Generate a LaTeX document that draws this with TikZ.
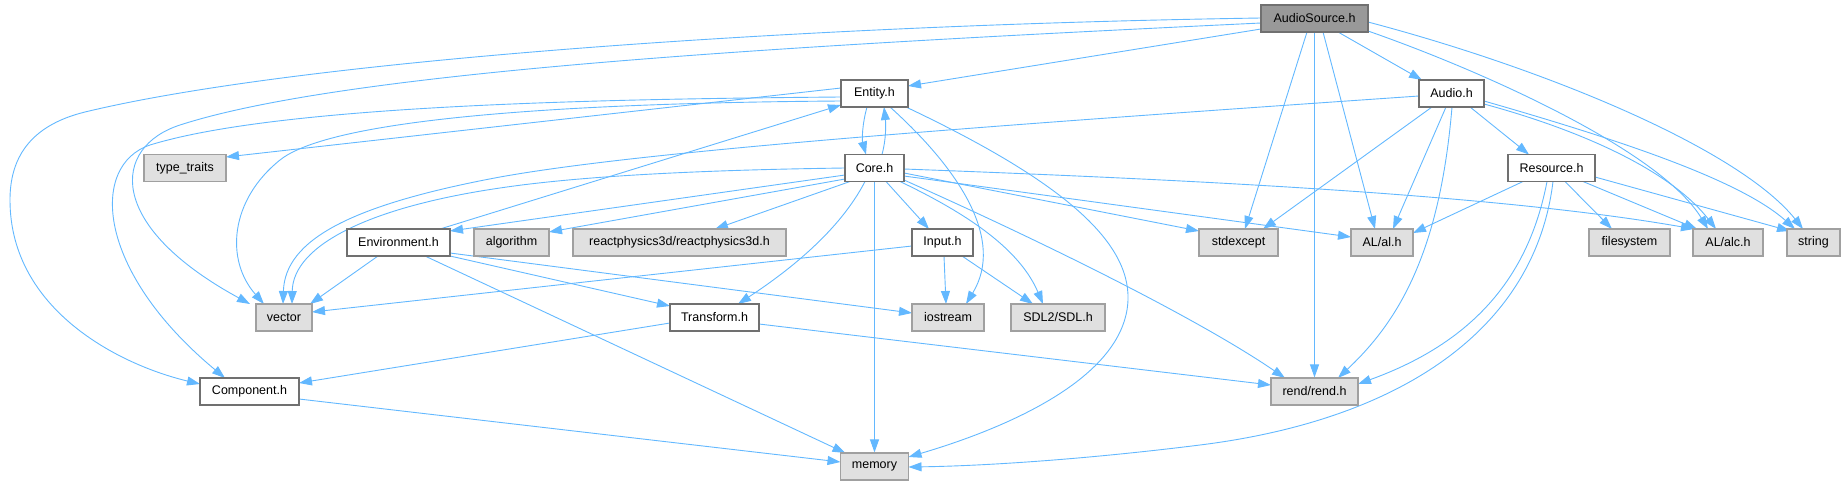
\documentclass[tikz,border=0pt]{standalone}
\usepackage{fontspec}
\setmainfont{Liberation Sans}
\usetikzlibrary{arrows.meta}
\definecolor{edgeblue}{HTML}{63B8FF}
\definecolor{wborder}{HTML}{707070}
\definecolor{gborder}{HTML}{A0A0A0}
\definecolor{gfill}{HTML}{E0E0E0}
\definecolor{rootfill}{HTML}{999999}
\pgfdeclarelayer{bg}
\pgfsetlayers{bg,main}
\begin{document}
\begin{tikzpicture}[x=1pt,y=-1pt,
  box/.style={rectangle, minimum height=27pt, inner sep=0pt, font=\fontsize{12.5}{15}\selectfont, line width=1.1pt},
  wbox/.style={box, draw=wborder, fill=white},
  gbox/.style={box, draw=gborder, fill=gfill},
  rootbox/.style={box, draw=wborder, fill=rootfill},
  edge/.style={draw=edgeblue, line width=0.9pt, -{Triangle[length=13pt,width=9pt]}}]
\useasboundingbox (0,0) rectangle (1845,485);
% nodes
\node[rootbox, minimum width=107pt] (as) at (1314.5,18.5) {AudioSource.h};
\node[wbox, minimum width=67pt] (entity) at (874.5,93.5) {Entity.h};
\node[wbox, minimum width=65pt] (audio) at (1451.5,93.5) {Audio.h};
\node[gbox, minimum width=82pt] (tt) at (185,168) {type\_traits};
\node[wbox, minimum width=59pt] (core) at (874.5,168) {Core.h};
\node[wbox, minimum width=87pt] (resource) at (1551.5,168) {Resource.h};
\node[wbox, minimum width=103pt] (env) at (398.5,242.5) {Environment.h};
\node[gbox, minimum width=75pt] (algo) at (511.5,242.5) {algorithm};
\node[gbox, minimum width=213pt] (rp) at (679.5,242.5) {reactphysics3d/reactphysics3d.h};
\node[wbox, minimum width=61pt] (input) at (942.5,242.5) {Input.h};
\node[gbox, minimum width=79pt] (stdex) at (1238.5,242.5) {stdexcept};
\node[gbox, minimum width=62pt] (al) at (1382,242.5) {AL/al.h};
\node[gbox, minimum width=81pt] (fs) at (1629.5,242.5) {filesystem};
\node[gbox, minimum width=70pt] (alc) at (1728,242.5) {AL/alc.h};
\node[gbox, minimum width=53pt] (str) at (1813.5,242.5) {string};
\node[gbox, minimum width=56pt] (vec) at (284,317.5) {vector};
\node[wbox, minimum width=89pt] (transform) at (714.5,317.5) {Transform.h};
\node[gbox, minimum width=72pt] (ios) at (948,317.5) {iostream};
\node[gbox, minimum width=94pt] (sdl) at (1058,317.5) {SDL2/SDL.h};
\node[wbox, minimum width=99pt] (comp) at (249.5,391.5) {Component.h};
\node[gbox, minimum width=87pt] (rend) at (1314.5,391.5) {rend/rend.h};
\node[gbox, minimum width=68pt] (mem) at (874.5,466.5) {memory};
\begin{pgfonlayer}{bg}
% AudioSource.h
\draw[edge] ([shift={(-53.5,10.5)}]as.center) -- ([shift={(33.5,-7.5)}]entity.center);
\draw[edge] ([shift={(-53.5,-0.5)}]as.center) .. controls (800,25) and (300,60) .. (85,112) .. controls (28,126) and (10,160) .. (10,200) .. controls (10,310) and (120,365) .. ([shift={(-49.5,-7.5)}]comp.center);
\draw[edge] ([shift={(-53.5,4.5)}]as.center) .. controls (800,45) and (350,70) .. (180,125) .. controls (112,147) and (105,225) .. ([shift={(-34,-13.5)}]vec.center);
\draw[edge] ([shift={(-7.5,13.5)}]as.center) -- ([shift={(6.5,-13.5)}]stdex.center);
\draw[edge] ([shift={(8.5,13.5)}]as.center) -- ([shift={(-7,-13.5)}]al.center);
\draw[edge] (as.south) -- (rend.north);
\draw[edge] ([shift={(23.5,13.5)}]as.center) -- ([shift={(-29.5,-13.5)}]audio.center);
\draw[edge] ([shift={(53.5,12.5)}]as.center) .. controls (1480,70) and (1660,150) .. ([shift={(-20,-13.5)}]alc.center);
\draw[edge] ([shift={(53.5,3.5)}]as.center) .. controls (1550,70) and (1740,150) .. ([shift={(-10.5,-13.5)}]str.center);
% Audio.h
\draw[edge] ([shift={(-32.5,2.5)}]audio.center) .. controls (1000,125) and (650,150) .. (500,177) .. controls (350,205) and (285,240) .. ([shift={(-1,-13.5)}]vec.center);
\draw[edge] ([shift={(-19.5,13.5)}]audio.center) -- ([shift={(24.5,-13.5)}]stdex.center);
\draw[edge] ([shift={(-5.5,13.5)}]audio.center) -- ([shift={(11,-13.5)}]al.center);
\draw[edge] ([shift={(0.5,13.5)}]audio.center) .. controls (1440,250) and (1400,320) .. ([shift={(23.5,-13.5)}]rend.center);
\draw[edge] ([shift={(18.5,13.5)}]audio.center) -- ([shift={(-22.5,-13.5)}]resource.center);
\draw[edge] ([shift={(32.5,10.5)}]audio.center) .. controls (1580,130) and (1670,170) .. ([shift={(-12,-13.5)}]alc.center);
\draw[edge] ([shift={(32.5,7.5)}]audio.center) .. controls (1620,140) and (1740,180) .. ([shift={(-18.5,-13.5)}]str.center);
% Entity.h
\draw[edge] ([shift={(-7.5,13.5)}]entity.center) .. controls (862,125) and (862,140) .. ([shift={(-8.5,-13.5)}]core.center);
\draw[edge] ([shift={(-33.5,-5.5)}]entity.center) -- ([shift={(41,-11)}]tt.center);
\draw[edge] ([shift={(-33.5,3.5)}]entity.center) .. controls (600,99) and (280,105) .. (150,145) .. controls (90,165) and (95,270) .. ([shift={(-24.5,-13.5)}]comp.center);
\draw[edge] ([shift={(-33.5,7.5)}]entity.center) .. controls (550,103) and (330,120) .. (280,160) .. controls (230,200) and (225,260) .. ([shift={(-20,-13.5)}]vec.center);
\draw[edge] ([shift={(15.5,13.5)}]entity.center) .. controls (960,170) and (1005,240) .. ([shift={(18,-13.5)}]ios.center);
\draw[edge] ([shift={(31.5,13.5)}]entity.center) .. controls (1060,180) and (1130,240) .. (1128,300) .. controls (1125,380) and (1000,430) .. ([shift={(34,-9.5)}]mem.center);
% Core.h
\draw[edge] ([shift={(7.5,-13.5)}]core.center) .. controls (886,140) and (886,125) .. ([shift={(9.5,13.5)}]entity.center);
\draw[edge] ([shift={(-29.5,0)}]core.center) .. controls (700,170) and (580,176) .. (500,188) .. controls (370,207) and (293,245) .. ([shift={(8,-13.5)}]vec.center);
\draw[edge] ([shift={(-29.5,7)}]core.center) -- ([shift={(51.5,-11.5)}]env.center);
\draw[edge] ([shift={(-29.5,11)}]core.center) -- ([shift={(37.5,-10.5)}]algo.center);
\draw[edge] ([shift={(-24.5,13.5)}]core.center) -- ([shift={(35.5,-13.5)}]rp.center);
\draw[edge] ([shift={(11.5,13.5)}]core.center) -- ([shift={(-13.5,-13.5)}]input.center);
\draw[edge] ([shift={(-9.5,13.5)}]core.center) .. controls (840,230) and (790,270) .. ([shift={(23.5,-13.5)}]transform.center);
\draw[edge] (core.south) -- (mem.north);
\draw[edge] ([shift={(25.5,13.5)}]core.center) .. controls (970,215) and (1020,250) .. ([shift={(-15,-13.5)}]sdl.center);
\draw[edge] ([shift={(29.5,12)}]core.center) .. controls (1050,245) and (1200,320) .. ([shift={(-29.5,-13.5)}]rend.center);
\draw[edge] ([shift={(29.5,5)}]core.center) -- ([shift={(-39.5,-11.5)}]stdex.center);
\draw[edge] ([shift={(29.5,8)}]core.center) -- ([shift={(-31,-5.5)}]al.center);
\draw[edge] ([shift={(29.5,1)}]core.center) .. controls (1200,180) and (1500,195) .. ([shift={(-34,-13.5)}]alc.center);
% Environment.h
\draw[edge] ([shift={(41.5,-13.5)}]env.center) -- ([shift={(-33.5,11.5)}]entity.center);
\draw[edge] ([shift={(-20.5,13.5)}]env.center) -- ([shift={(26,-13.5)}]vec.center);
\draw[edge] ([shift={(51.5,13.5)}]env.center) -- ([shift={(-44.5,-11.5)}]transform.center);
\draw[edge] ([shift={(51.5,10.5)}]env.center) -- ([shift={(-36,-4.5)}]ios.center);
\draw[edge] ([shift={(26.5,13.5)}]env.center) -- ([shift={(-29,-13.5)}]mem.center);
% Input.h
\draw[edge] ([shift={(-30.5,3.5)}]input.center) -- ([shift={(28,-5.5)}]vec.center);
\draw[edge] ([shift={(1.5,13.5)}]input.center) -- ([shift={(-2,-13.5)}]ios.center);
\draw[edge] ([shift={(19.5,13.5)}]input.center) -- ([shift={(-25,-13.5)}]sdl.center);
% Transform.h
\draw[edge] ([shift={(-44.5,5.5)}]transform.center) -- ([shift={(49.5,-8.5)}]comp.center);
\draw[edge] ([shift={(44.5,6.5)}]transform.center) -- ([shift={(-43.5,-6.5)}]rend.center);
% Component.h
\draw[edge] ([shift={(49.5,7.5)}]comp.center) -- ([shift={(-34,-4.5)}]mem.center);
% Resource.h
\draw[edge] ([shift={(-28.5,13.5)}]resource.center) -- ([shift={(31,-9.5)}]al.center);
\draw[edge] ([shift={(13.5,13.5)}]resource.center) -- ([shift={(-17.5,-13.5)}]fs.center);
\draw[edge] ([shift={(31.5,13.5)}]resource.center) -- ([shift={(-31,-13.5)}]alc.center);
\draw[edge] ([shift={(43.5,9)}]resource.center) -- ([shift={(-23.5,-11.5)}]str.center);
\draw[edge] ([shift={(-4.5,13.5)}]resource.center) .. controls (1530,270) and (1480,340) .. ([shift={(43.5,-7.5)}]rend.center);
\draw[edge] ([shift={(1.5,13.5)}]resource.center) .. controls (1535,330) and (1400,420) .. (1200,445) .. controls (1080,460) and (980,466) .. ([shift={(34,0.5)}]mem.center);
\end{pgfonlayer}
\end{tikzpicture}
\end{document}
